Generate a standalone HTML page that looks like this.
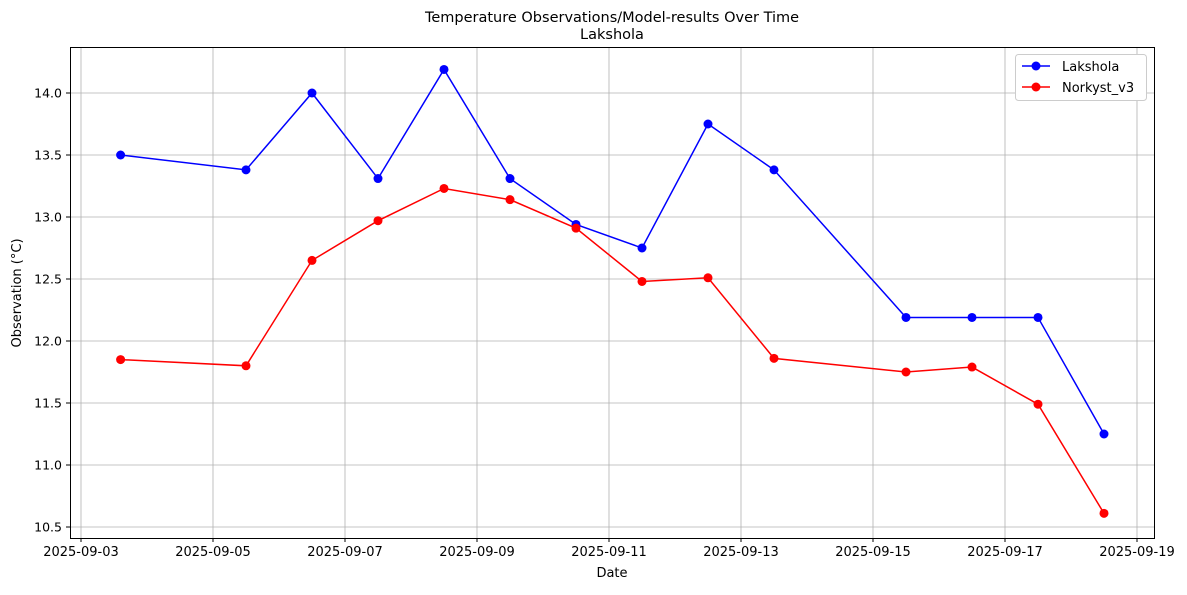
<!DOCTYPE html>
<html><head><meta charset="utf-8"><style>
body{margin:0;background:#fff;font-family:"Liberation Sans","DejaVu Sans",sans-serif}
svg text{font-family:"DejaVu Sans","Liberation Sans",sans-serif}
</style></head><body>
<svg id="chart" width="1187" height="590">
<text x="612" y="22" text-anchor="middle" font-size="14.5">Temperature Observations/Model-results Over Time</text>
<text x="612" y="39" text-anchor="middle" font-size="14.5">Lakshola</text>
<g id="grid"></g>
<g id="xticks"></g>
<g id="yticks"></g>
<rect x="70.5" y="47.5" width="1084" height="491" fill="none" stroke="#000" stroke-width="1"/>
<g id="series"></g>
<text x="612" y="577" text-anchor="middle" font-size="13">Date</text>
<text x="21" y="293" text-anchor="middle" font-size="13" transform="rotate(-90 21 293)">Observation (°C)</text>
<g>
<rect x="1015.5" y="54.5" width="131" height="46" rx="3" fill="#fff" stroke="#ccc"/>
<line x1="1022" y1="66" x2="1050" y2="66" stroke="blue" stroke-width="1.5"/><circle cx="1036" cy="66" r="4.5" fill="blue"/>
<text x="1062" y="71" font-size="13">Lakshola</text>
<line x1="1022" y1="87" x2="1050" y2="87" stroke="red" stroke-width="1.5"/><circle cx="1036" cy="87" r="4.5" fill="red"/>
<text x="1062" y="92" font-size="13">Norkyst_v3</text>
</g>
</svg>
<script>
const dayOffsets=[0.6,2.5,3.5,4.5,5.5,6.5,7.5,8.5,9.5,10.5,12.5,13.5,14.5,15.5];
const lakshola=[13.5,13.38,14.0,13.31,14.19,13.31,12.94,12.75,13.75,13.38,12.19,12.19,12.19,11.25];
const norkyst=[11.85,11.80,12.65,12.97,13.23,13.14,12.91,12.48,12.51,11.86,11.75,11.79,11.49,10.61];
const xTickDays=[0,2,4,6,8,10,12,14,16];
const xTickLabels=["2025-09-03","2025-09-05","2025-09-07","2025-09-09","2025-09-11","2025-09-13","2025-09-15","2025-09-17","2025-09-19"];
const yTicks=[10.5,11.0,11.5,12.0,12.5,13.0,13.5,14.0];
const NS="http://www.w3.org/2000/svg";
function X(d){return 81+66*d;}
function Y(v){return 93+(14-v)*124;}
function mk(tag,attrs,parent){const e=document.createElementNS(NS,tag);for(const k in attrs)e.setAttribute(k,attrs[k]);parent.appendChild(e);return e;}
const grid=document.getElementById('grid'),xt=document.getElementById('xticks'),yt=document.getElementById('yticks'),ser=document.getElementById('series');
xTickDays.forEach((d,i)=>{const x=X(d);
const g=mk('line',{x1:x,x2:x,y1:48,y2:538,stroke:'#b0b0b0','stroke-width':0.8},grid);


mk('line',{x1:x,x2:x,y1:538,y2:542,stroke:'#000'},xt);
const t=mk('text',{x:x,y:556,'text-anchor':'middle','font-size':13},xt);t.textContent=xTickLabels[i];

});
yTicks.forEach(v=>{const y=Y(v);
const g=mk('line',{x1:70,x2:1154,y1:y,y2:y,stroke:'#b0b0b0','stroke-width':0.8},grid);


mk('line',{x1:66,x2:70,y1:y,y2:y,stroke:'#000'},yt);
const t=mk('text',{x:62,y:y+4.5,'text-anchor':'end','font-size':12.5},yt);t.textContent=v.toFixed(1);

});
function draw(vals,color,name){
const pts=vals.map((v,i)=>X(dayOffsets[i])+','+Y(v)).join(' ');
const l=mk('polyline',{points:pts,fill:'none',stroke:color,'stroke-width':1.5},ser);


vals.forEach((v,i)=>{const c=mk('circle',{cx:X(dayOffsets[i]),cy:Y(v),r:4.5,fill:color},ser);

});}
draw(lakshola,'blue','lakshola');
draw(norkyst,'red','norkyst');
</script>
</body></html>
